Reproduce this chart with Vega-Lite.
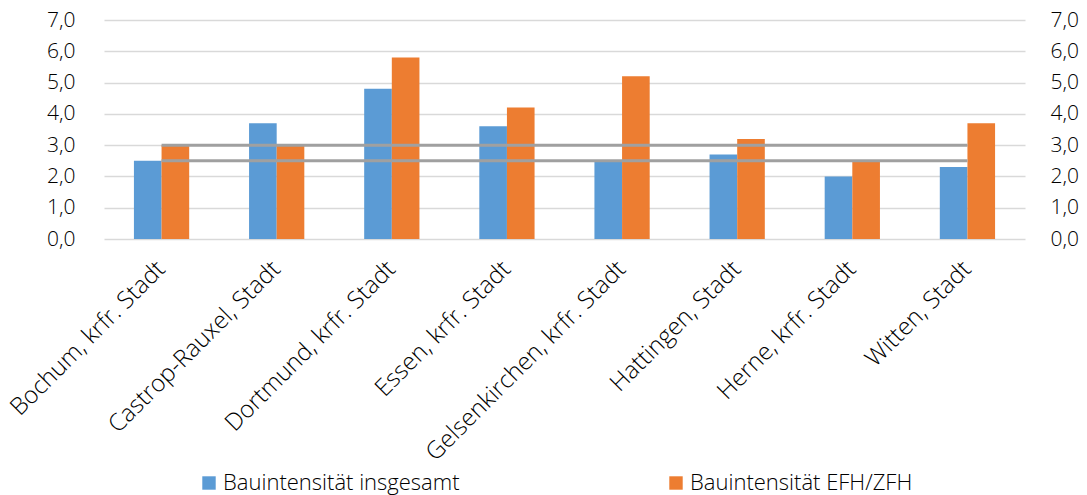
{
  "$schema": "https://vega.github.io/schema/vega-lite/v6.json",
  "width": 921,
  "height": 219,
  "autosize": {"type": "none"},
  "padding": {"left": 104, "top": 20, "right": 62, "bottom": 256},
  "background": "white",
  "config": {
    "view": {"stroke": null},
    "font": "Open Sans",
    "axis": {
      "labelFont": "Open Sans",
      "labelFontWeight": 300,
      "labelColor": "#000000",
      "labelFontSize": 21,
      "labelOverlap": false,
      "title": null,
      "ticks": false,
      "domain": false
    },
    "legend": {"labelFont": "Open Sans", "labelFontWeight": 300}
  },
  "datasets": {
    "bars": [
      {"city": "Bochum, krfr. Stadt", "series": "Bauintensität insgesamt", "value": 2.5},
      {"city": "Bochum, krfr. Stadt", "series": "Bauintensität EFH/ZFH", "value": 3.0},
      {"city": "Castrop-Rauxel, Stadt", "series": "Bauintensität insgesamt", "value": 3.7},
      {"city": "Castrop-Rauxel, Stadt", "series": "Bauintensität EFH/ZFH", "value": 3.0},
      {"city": "Dortmund, krfr. Stadt", "series": "Bauintensität insgesamt", "value": 4.8},
      {"city": "Dortmund, krfr. Stadt", "series": "Bauintensität EFH/ZFH", "value": 5.8},
      {"city": "Essen, krfr. Stadt", "series": "Bauintensität insgesamt", "value": 3.6},
      {"city": "Essen, krfr. Stadt", "series": "Bauintensität EFH/ZFH", "value": 4.2},
      {"city": "Gelsenkirchen, krfr. Stadt", "series": "Bauintensität insgesamt", "value": 2.5},
      {"city": "Gelsenkirchen, krfr. Stadt", "series": "Bauintensität EFH/ZFH", "value": 5.2},
      {"city": "Hattingen, Stadt", "series": "Bauintensität insgesamt", "value": 2.7},
      {"city": "Hattingen, Stadt", "series": "Bauintensität EFH/ZFH", "value": 3.2},
      {"city": "Herne, krfr. Stadt", "series": "Bauintensität insgesamt", "value": 2.0},
      {"city": "Herne, krfr. Stadt", "series": "Bauintensität EFH/ZFH", "value": 2.5},
      {"city": "Witten, Stadt", "series": "Bauintensität insgesamt", "value": 2.3},
      {"city": "Witten, Stadt", "series": "Bauintensität EFH/ZFH", "value": 3.7}
    ],
    "lines": [
      {"city": "Bochum, krfr. Stadt", "avg": "Durchschnitt EFH/ZFH", "value": 3.0},
      {"city": "Castrop-Rauxel, Stadt", "avg": "Durchschnitt EFH/ZFH", "value": 3.0},
      {"city": "Dortmund, krfr. Stadt", "avg": "Durchschnitt EFH/ZFH", "value": 3.0},
      {"city": "Essen, krfr. Stadt", "avg": "Durchschnitt EFH/ZFH", "value": 3.0},
      {"city": "Gelsenkirchen, krfr. Stadt", "avg": "Durchschnitt EFH/ZFH", "value": 3.0},
      {"city": "Hattingen, Stadt", "avg": "Durchschnitt EFH/ZFH", "value": 3.0},
      {"city": "Herne, krfr. Stadt", "avg": "Durchschnitt EFH/ZFH", "value": 3.0},
      {"city": "Witten, Stadt", "avg": "Durchschnitt EFH/ZFH", "value": 3.0},
      {"city": "Bochum, krfr. Stadt", "avg": "Durchschnitt insgesamt", "value": 2.5},
      {"city": "Castrop-Rauxel, Stadt", "avg": "Durchschnitt insgesamt", "value": 2.5},
      {"city": "Dortmund, krfr. Stadt", "avg": "Durchschnitt insgesamt", "value": 2.5},
      {"city": "Essen, krfr. Stadt", "avg": "Durchschnitt insgesamt", "value": 2.5},
      {"city": "Gelsenkirchen, krfr. Stadt", "avg": "Durchschnitt insgesamt", "value": 2.5},
      {"city": "Hattingen, Stadt", "avg": "Durchschnitt insgesamt", "value": 2.5},
      {"city": "Herne, krfr. Stadt", "avg": "Durchschnitt insgesamt", "value": 2.5},
      {"city": "Witten, Stadt", "avg": "Durchschnitt insgesamt", "value": 2.5}
    ]
  },
  "layer": [
    {
      "data": {"name": "bars"},
      "mark": {"type": "bar"},
      "encoding": {
        "x": {
          "field": "city",
          "type": "nominal",
          "sort": null,
          "scale": {"paddingInner": 0.52, "paddingOuter": 0.26},
          "axis": {
            "labelAngle": -45,
            "labelAlign": "right",
            "labelBaseline": "middle",
            "labelPadding": 26,
            "labelFontSize": 24,
            "labelLimit": 400,
            "grid": false
          }
        },
        "xOffset": {
          "field": "series",
          "sort": ["Bauintensität insgesamt", "Bauintensität EFH/ZFH"],
          "scale": {"paddingInner": 0, "paddingOuter": 0}
        },
        "y": {
          "field": "value",
          "type": "quantitative",
          "scale": {"domain": [0, 7], "nice": false},
          "axis": {
            "orient": "left",
            "values": [0, 1, 2, 3, 4, 5, 6, 7],
            "labelExpr": "replace(format(datum.value, '.1f'), '.', ',')",
            "labelPadding": 29,
            "grid": true,
            "gridColor": "#D9D9D9",
            "gridWidth": 1.5
          }
        },
        "color": {
          "field": "series",
          "type": "nominal",
          "scale": {
            "domain": ["Bauintensität insgesamt", "Bauintensität EFH/ZFH"],
            "range": ["#5B9BD5", "#ED7D31"]
          },
          "legend": {
            "title": null,
            "orient": "none",
            "legendX": 94,
            "legendY": 452,
            "direction": "horizontal",
            "symbolType": "square",
            "symbolSize": 180,
            "symbolStrokeWidth": 0,
            "symbolOpacity": 1,
            "labelFontSize": 22,
            "labelColor": "#000000",
            "labelLimit": 400,
            "labelOffset": 3,
            "columnPadding": 205
          }
        }
      }
    },
    {
      "data": {"name": "lines"},
      "mark": {"type": "line", "color": "#A0A0A0", "strokeWidth": 3},
      "encoding": {
        "x": {"field": "city", "type": "nominal", "sort": null},
        "y": {
          "field": "value",
          "type": "quantitative",
          "axis": {
            "orient": "right",
            "values": [0, 1, 2, 3, 4, 5, 6, 7],
            "labelExpr": "replace(format(datum.value, '.1f'), '.', ',')",
            "labelPadding": 25,
            "grid": false
          }
        },
        "detail": {"field": "avg"}
      }
    }
  ],
  "resolve": {"axis": {"y": "independent"}}
}
